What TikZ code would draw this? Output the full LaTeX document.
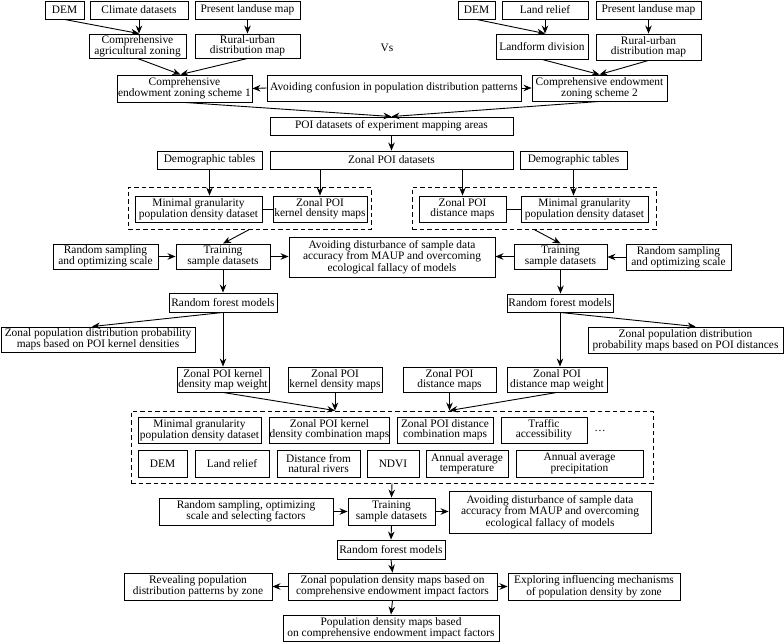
\documentclass[tikz,border=0pt]{standalone}
\usepackage{fontspec}
\setmainfont{Liberation Serif}
\usetikzlibrary{arrows.meta,calc}
\newcommand\bx[6]{\node[bx,minimum width={(#4)-(#2)},minimum height={(#5)-(#3)}] (#1) at ({((#2)+(#4))/2},{((#3)+(#5))/2}) {#6};}
\tikzset{
  bx/.style={draw, line width=0.9pt, inner sep=0pt, align=center, font=\fontsize{11.4}{10}\selectfont},
  dbx/.style={draw, dash pattern=on 4.5pt off 3pt, line width=0.9pt, inner sep=0pt},
  arr/.style={-{Stealth[length=8pt,width=6.5pt]}, line width=0.9pt},
  ln/.style={line width=0.9pt},
  txt/.style={inner sep=0pt, font=\fontsize{11.4}{10}\selectfont}
}
\begin{document}
\begin{tikzpicture}[x=1pt,y=-1pt]
\useasboundingbox (0,0) rectangle (784,642);
% top left
\bx{dema}{45}{1}{84}{19}{DEM}
\bx{clim}{90}{1}{188}{19}{Climate datasets}
\bx{pla}{195}{1}{300}{19}{Present landuse map}
\bx{caz}{89}{34}{186}{58}{Comprehensive\\agricultural zoning}
\bx{rua}{195}{34}{300}{58}{Rural-urban\\distribution map}
\bx{sa}{117}{75}{252}{102}{Comprehensive\\endowment zoning scheme 1}
\bx{avc}{267}{75}{521}{101}{Avoiding confusion in population distribution patterns}
\bx{sb}{532}{75}{667}{101}{Comprehensive endowment\\zoning scheme 2}
\node[txt] (vs) at (387,48) {Vs};
% top right
\bx{demb}{458}{1}{495}{19}{DEM}
\bx{rel}{502}{1}{588}{19}{Land relief}
\bx{plb}{596}{1}{701}{19}{Present landuse map}
\bx{lfd}{496}{34}{588}{59}{Landform division}
\bx{rub}{596}{34}{701}{60}{Rural-urban\\distribution map}
% POI
\bx{poi}{270}{117}{513}{135}{POI datasets of experiment mapping areas}
\bx{zpoi}{270}{151}{513}{169}{Zonal POI datasets}
\bx{dta}{157}{151}{262}{169}{Demographic tables}
\bx{dtb}{520}{151}{627}{169}{Demographic tables}
\node[dbx, minimum width=243, minimum height=42] (d1) at (249.5,208) {};
\node[dbx, minimum width=244, minimum height=42] (d2) at (534,208) {};
\bx{mga}{135}{196}{262}{222}{Minimal granularity\\population density dataset}
\bx{kda}{273}{196}{367}{222}{Zonal POI\\kernel density maps}
\bx{dma}{419}{196}{506}{222}{Zonal POI\\distance maps}
\bx{mgb}{521}{196}{648}{222}{Minimal granularity\\population density dataset}
% training
\bx{rsa}{53}{244}{158}{269}{Random sampling\\and optimizing scale}
\bx{tra}{176}{244}{270}{269}{Training\\sample datasets}
\bx{ava}{289}{237}{495}{277}{Avoiding disturbance of sample data\\accuracy from MAUP and overcoming\\ecological fallacy of models}
\bx{trb}{514}{244}{607}{269}{Training\\sample datasets}
\bx{rsb}{626}{244}{731}{270}{Random sampling\\and optimizing scale}
\bx{rfa}{169}{293}{277}{312}{Random forest models}
\bx{rfb}{507}{294}{613}{312}{Random forest models}
\bx{zpa}{1}{327}{195}{352}{Zonal population distribution probability\\maps based on POI kernel densities}
\bx{zpb}{588}{327}{783}{353}{Zonal population distribution\\probability maps based on POI distances}
\bx{kdw}{177}{367}{269}{392}{Zonal POI kernel\\density map weight}
\bx{kdb}{288}{367}{382}{392}{Zonal POI\\kernel density maps}
\bx{dmb}{403}{367}{496}{392}{Zonal POI\\distance maps}
\bx{dmw}{507}{367}{607}{392}{Zonal POI\\distance map weight}
% factors
\node[dbx, minimum width=522, minimum height=72] (big) at (392,447) {};
\bx{fa}{138}{417}{261}{443}{Minimal granularity\\population density dataset}
\bx{fb}{270}{417}{389}{443}{Zonal POI kernel\\density combination maps}
\bx{fc}{397}{417}{493}{443}{Zonal POI distance\\combination maps}
\bx{fd}{501}{417}{587}{443}{Traffic\\accessibility}
\node[txt] (dots) at (600,431) {\dots};
\bx{ga}{138}{450}{187}{477}{DEM}
\bx{gb}{195}{450}{269}{477}{Land relief}
\bx{gc}{277}{450}{360}{477}{Distance from\\natural rivers}
\bx{gd}{367}{450}{419}{477}{NDVI}
\bx{ge}{426}{450}{508}{477}{Annual average\\temperature}
\bx{gf}{516}{450}{643}{477}{Annual average\\precipitation}
% bottom
\bx{rsc}{159}{498}{333}{525}{Random sampling, optimizing\\scale and selecting factors}
\bx{trc}{348}{498}{435}{525}{Training\\sample datasets}
\bx{avb}{449}{491}{651}{533}{Avoiding disturbance of sample data\\accuracy from MAUP and overcoming\\ecological fallacy of models}
\bx{rfc}{337}{540}{445}{559}{Random forest models}
\bx{zpd}{288}{573}{497}{600}{Zonal population density maps based on\\comprehensive endowment impact factors}
\bx{rev}{124}{573}{272}{600}{Revealing population\\distribution patterns by zone}
\bx{exm}{508}{573}{680}{600}{Exploring influencing mechanisms\\of population density by zone}
\bx{pdm}{283}{615}{499}{641}{Population density maps based\\on comprehensive endowment impact factors}
% connectors
\draw[arr] (dema.south) -- (clim.south |- caz.north);
\draw[arr] (clim.south) -- (clim.south |- caz.north);
\draw[arr] (pla.south) -- (rua.north);
\draw[arr] (caz.south) -- ($(sa.north)+(-4,0)$);
\draw[arr] (rua.south) -- ($(sa.north)+(-4,0)$);
\draw[arr] (avc.west) -- (sa.east);
\draw[arr] (avc.east) -- (sb.west);
\draw[arr] (demb.south) -- (rel.south |- lfd.north);
\draw[arr] (rel.south) -- (rel.south |- lfd.north);
\draw[arr] (plb.south) -- (rub.north);
\draw[arr] (lfd.south) -- (sb.north);
\draw[arr] (rub.south) -- (sb.north);
\draw[arr] (sa.south) -- (poi.north);
\draw[arr] (sb.south) -- (poi.north);
\draw[arr] (poi.south) -- (zpoi.north);
\draw[arr] (dta.south) -- (dta.south |- mga.north);
\draw[arr] (kda.north |- zpoi.south) -- (kda.north);
\draw[ln] (mga.east) -- (kda.west);
\draw[arr] (dma.north |- zpoi.south) -- (dma.north);
\draw[arr] (dtb.south) -- (dtb.south |- mgb.north);
\draw[ln] (dma.east) -- (mgb.west);
\draw[arr] (d1.south) -- (tra.north);
\draw[arr] (d2.south) -- (trb.north);
\draw[arr] (rsa.east) -- (tra.west);
\draw[arr] (tra.east) -- (tra.east -| ava.west);
\draw[arr] (rsb.west) -- (rsb.west -| trb.east);
\draw[arr] (trb.west) -- (trb.west -| ava.east);
\draw[arr] (tra.south) -- (rfa.north);
\draw[arr] (rfa.south) -- ($(zpa.north)+(-6,0)$);
\draw[arr] (rfa.south) -- (kdw.north);
\draw[arr] (trb.south) -- (trb.south |- rfb.north);
\draw[arr] (rfb.south) -- ($(zpb.north)+(10,0)$);
\draw[arr] (rfb.south) -- (rfb.south |- dmw.north);
\draw[arr] (kdw.south) -- (kdb.south |- big.north);
\draw[arr] (kdb.south) -- (kdb.south |- big.north);
\draw[arr] (dmw.south) -- (dmb.south |- big.north);
\draw[arr] (dmb.south) -- (dmb.south |- big.north);
\draw[arr] (big.south) -- (trc.north);
\draw[arr] (rsc.east) -- (trc.west);
\draw[arr] (trc.east) -- (trc.east -| avb.west);
\draw[arr] (trc.south) -- (rfc.north);
\draw[arr] (rfc.south) -- (zpd.north);
\draw[arr] (zpd.west) -- (rev.east);
\draw[arr] (zpd.east) -- (exm.west);
\draw[arr] (zpd.south) -- (pdm.north);
\end{tikzpicture}
\end{document}
